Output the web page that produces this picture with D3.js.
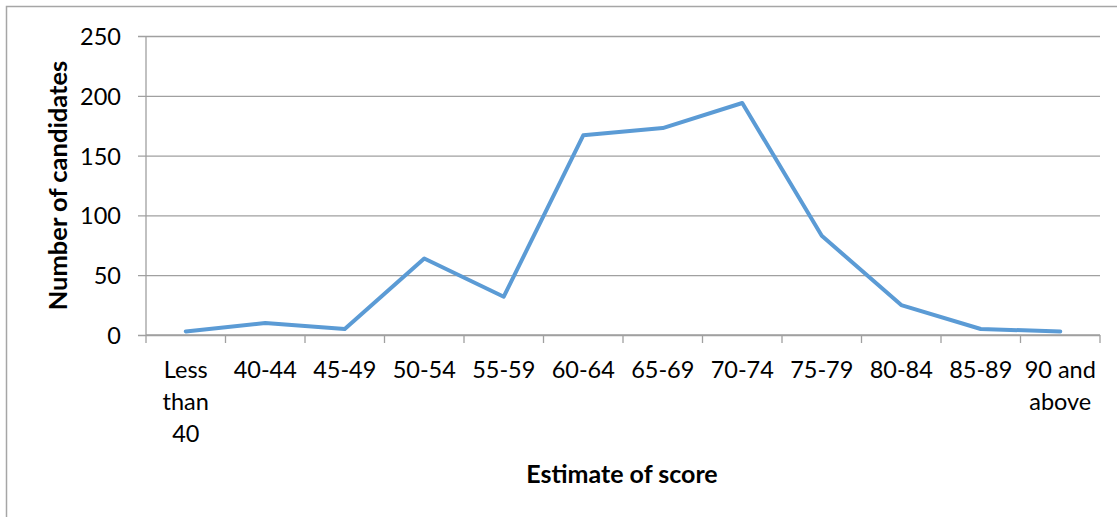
<!DOCTYPE html>
<html>
<head>
<meta charset="utf-8">
<script src="https://cdn.jsdelivr.net/npm/d3@7"></script>
<style>
  html, body { margin: 0; padding: 0; background: #fff; }
  svg { display: block; }
  text { font-family: Lato, "Open Sans", sans-serif; fill: #000; }
</style>
</head>
<body>
<svg id="chart" width="1117" height="517"></svg>
<script>
const categories = [
  "Less than 40", "40-44", "45-49", "50-54", "55-59", "60-64",
  "65-69", "70-74", "75-79", "80-84", "85-89", "90 and above"
];
// label lines as they wrap in the picture
const categoryLines = [
  ["Less", "than", "40"], ["40-44"], ["45-49"], ["50-54"], ["55-59"], ["60-64"],
  ["65-69"], ["70-74"], ["75-79"], ["80-84"], ["85-89"], ["90 and", "above"]
];
const candidates = [3, 10, 5, 64, 32, 167, 173, 194, 83, 25, 5, 3];
const yTicks = [0, 50, 100, 150, 200, 250];

const margins = { top: 36, right: 17, bottom: 182, left: 146 };
const width = 1117 - (margins.left + margins.right);
const height = 517 - (margins.top + margins.bottom);

const svgMain = d3.select("#chart");

// outer frame, runs off the right and bottom of the picture
svgMain
  .append("rect")
  .attr("x", 6.5)
  .attr("y", 6.5)
  .attr("width", 1200)
  .attr("height", 600)
  .attr("fill", "none")
  .attr("stroke", "#a6a6a6")
  .attr("stroke-width", 1.5);

const x = d3.scaleBand().domain(categories).range([0, width]);
const y = d3.scaleLinear().domain([0, 250]).range([height, 0]);

const svg = svgMain
  .append("g")
  .attr("transform", "translate(" + margins.left + "," + margins.top + ")");

// gridlines + y ticks
svg
  .append("g")
  .call(d3.axisLeft(y).tickValues(yTicks).tickSize(-width).tickPadding(25).tickSizeOuter(0))
  .call((g) => g.select(".domain").remove())
  .call((g) =>
    g.selectAll(".tick line")
      .attr("x1", -8)
      .attr("stroke", "#a0a0a0")
      .attr("stroke-width", 1.3)
  )
  .call((g) =>
    g.selectAll(".tick text")
      .style("font-size", "23.5px")
      .attr("dy", "0.36em")
  );

// y axis line
svg
  .append("line")
  .attr("x1", 0)
  .attr("x2", 0)
  .attr("y1", 0)
  .attr("y2", height)
  .attr("stroke", "#a0a0a0")
  .attr("stroke-width", 1.3);

// x axis: ticks between bands
const boundaries = d3.range(categories.length + 1).map((i) => i * x.step());
svg
  .append("g")
  .selectAll("line")
  .data(boundaries)
  .enter()
  .append("line")
  .attr("x1", (d) => d)
  .attr("x2", (d) => d)
  .attr("y1", height)
  .attr("y2", height + 8)
  .attr("stroke", "#a0a0a0")
  .attr("stroke-width", 1.3);

svg
  .append("line")
  .attr("x1", 0)
  .attr("x2", width)
  .attr("y1", height)
  .attr("y2", height)
  .attr("stroke", "#a0a0a0")
  .attr("stroke-width", 1.3);

const labels = svg
  .append("g")
  .selectAll("text")
  .data(categories)
  .enter()
  .append("text")
  .attr("text-anchor", "middle")
  .attr("transform", (d) => "translate(" + (x(d) + x.bandwidth() / 2) + "," + (height + 43) + ")")
  .style("font-size", "23.5px");

labels
  .selectAll("tspan")
  .data((d, i) => categoryLines[i])
  .enter()
  .append("tspan")
  .attr("x", 0)
  .attr("dy", (d, i) => (i === 0 ? 0 : 31.8))
  .text((d) => d);

// line series
svg
  .append("path")
  .datum(candidates)
  .attr("fill", "none")
  .attr("stroke", "#5b9bd5")
  .attr("stroke-width", 4)
  .attr("stroke-linejoin", "round")
  .attr("stroke-linecap", "round")
  .attr(
    "d",
    d3
      .line()
      .x((d, i) => x(categories[i]) + x.bandwidth() / 2)
      .y((d) => y(d))
  );

// axis titles
svgMain
  .append("text")
  .attr("text-anchor", "middle")
  .attr("transform", "translate(67," + (margins.top + height / 2) + ") rotate(-90)")
  .style("font-size", "25.5px")
  .style("font-weight", "bold")
  .text("Number of candidates");

svgMain
  .append("text")
  .attr("text-anchor", "middle")
  .attr("x", 622)
  .attr("y", 483)
  .style("font-size", "25px")
  .style("font-weight", "bold")
  .text("Estimate of score");
</script>
</body>
</html>
